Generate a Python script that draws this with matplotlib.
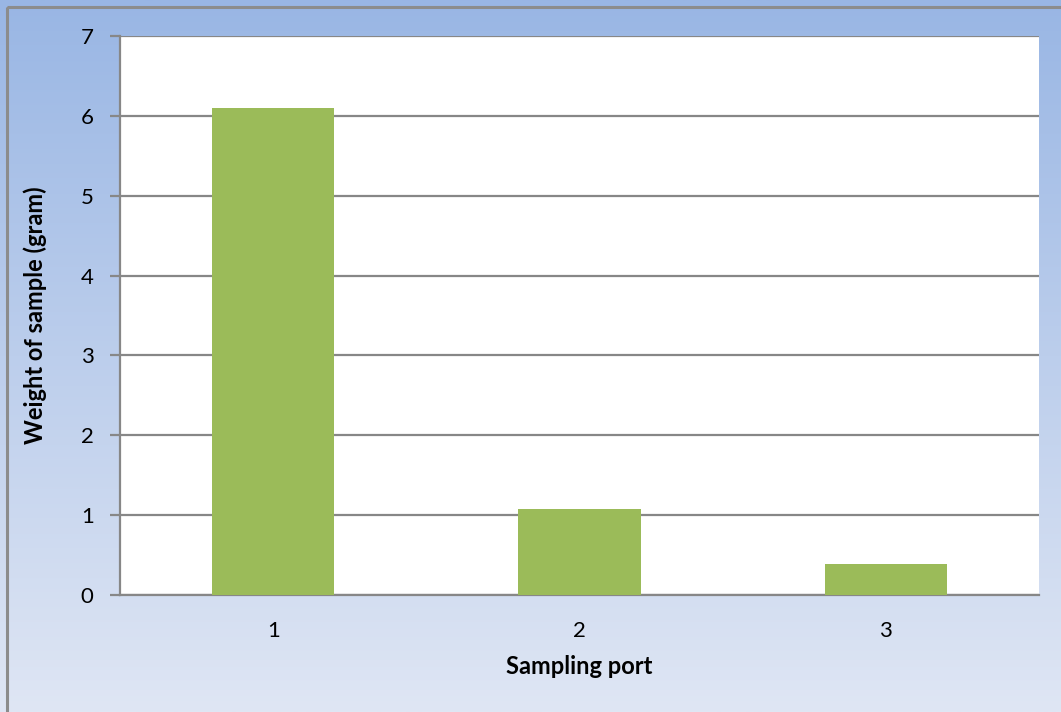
import numpy as np
import matplotlib.pyplot as plt
from matplotlib.colors import LinearSegmentedColormap
from matplotlib.patches import Rectangle

ports = ['1', '2', '3']
weights = [6.10, 1.08, 0.39]
y_ticks = [0, 1, 2, 3, 4, 5, 6, 7]

plt.rcParams['font.family'] = ['Lato', 'DejaVu Sans']

W, H = 1061, 712
fig = plt.figure(figsize=(W / 100, H / 100), dpi=100)

# background: vertical gradient with a gray frame on the top/left edge
bg = fig.add_axes([0, 0, 1, 1], zorder=0)
grad_cmap = LinearSegmentedColormap.from_list('bg', ['#99b6e4', '#dfe6f4'])
bg.imshow(np.linspace(0, 1, 256).reshape(-1, 1), aspect='auto', cmap=grad_cmap,
          extent=[0, W, H, 0])
bg.add_patch(Rectangle((7, 7), W + 10, H + 10, fill=False, edgecolor='#8c8c8c', lw=2.2))
bg.set_xlim(0, W)
bg.set_ylim(H, 0)
bg.axis('off')

ax = fig.add_axes([120 / W, 1 - 595 / H, (1039 - 120) / W, (595 - 36) / H], zorder=1)
ax.set_facecolor('white')
x = np.arange(len(ports))
ax.bar(x, weights, width=0.4, color='#9bbb59', zorder=3)

ax.set_xlim(-0.5, len(ports) - 0.5)
ax.set_ylim(0, 7)
ax.set_yticks(y_ticks)
ax.set_xticks(x)
ax.set_xticklabels(ports)
ax.grid(axis='y', color='#878787', lw=1.6, zorder=1)
for s in ['top', 'right']:
    ax.spines[s].set_visible(False)
ax.spines['left'].set_color('#878787')
ax.spines['bottom'].set_color('#878787')
ax.spines['left'].set_linewidth(1.6)
ax.spines['bottom'].set_linewidth(1.6)
ax.tick_params(axis='y', direction='out', length=7, width=1.6, color='#878787',
               labelsize=16, pad=12)
ax.tick_params(axis='x', length=0, labelsize=16, pad=19)

ax.set_xlabel('Sampling port', fontsize=17, fontweight='bold', labelpad=10)
ax.set_ylabel('Weight of sample (gram)', fontsize=17, fontweight='bold', labelpad=24)

fig.savefig('out.png', dpi=100)
